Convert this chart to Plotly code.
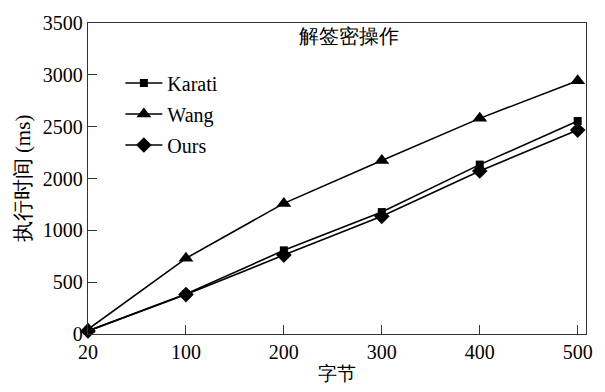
import plotly.graph_objects as go

# Message sizes (bytes) and unsigncryption times
sizes = ["20", "100", "200", "300", "400", "500"]
karati = [30, 386, 807, 1176, 1634, 2055]
wang = [45, 730, 1260, 1674, 2080, 2444]
ours = [30, 380, 761, 1135, 1572, 1967]

y_tickvals = [0, 500, 1000, 1500, 2000, 2500, 3000]
y_ticktext = ["0", "500", "1000", "2000", "2500", "3000", "3500"]

serif = "'Times New Roman', 'Liberation Serif', serif"

series = [
    ("Karati", karati, "square", 8),
    ("Wang", wang, "triangle-up", 13),
    ("Ours", ours, "diamond", 12),
]

fig = go.Figure()
for name, vals, sym, sz in series:
    fig.add_trace(go.Scatter(
        x=sizes, y=vals, name=name, mode="lines+markers",
        line=dict(color="black", width=1.6),
        marker=dict(symbol=sym, size=sz, color="black"),
        legendgroup=name, cliponaxis=False,
    ))

axis_common = dict(
    showline=True, linecolor="#333333", linewidth=1.3, mirror=True,
    ticks="inside", ticklen=9, tickwidth=1.2, tickcolor="#333333",
    showgrid=False, zeroline=False,
    tickfont=dict(family=serif, size=20, color="black"),
)

fig.update_layout(
    width=605, height=392,
    margin=dict(l=88, r=12, t=17, b=54),
    paper_bgcolor="white", plot_bgcolor="white",
    font=dict(family=serif, color="black"),
    xaxis=dict(
        type="category", range=[0, 5.085],
        title=dict(text="字节", font=dict(family=serif, size=19), standoff=4),
        **axis_common,
    ),
    yaxis=dict(
        range=[0, 3000], tickvals=y_tickvals, ticktext=y_ticktext,
        title=dict(text="执行时间 (ms)", font=dict(family=serif, size=21), standoff=6),
        **axis_common,
    ),
    legend=dict(
        x=0.065, y=0.87, xanchor="left", yanchor="top",
        font=dict(family=serif, size=20, color="black"),
        bgcolor="rgba(0,0,0,0)", itemwidth=37, tracegroupgap=2,
    ),
    showlegend=True,
    annotations=[dict(
        text="解签密操作", x=0.524, y=1 - (30 - 17) / (392 - 17 - 54),
        xref="paper", yref="paper", yanchor="middle",
        showarrow=False, font=dict(family=serif, size=20, color="black"),
    )],
)

fig.write_html("out.html")
